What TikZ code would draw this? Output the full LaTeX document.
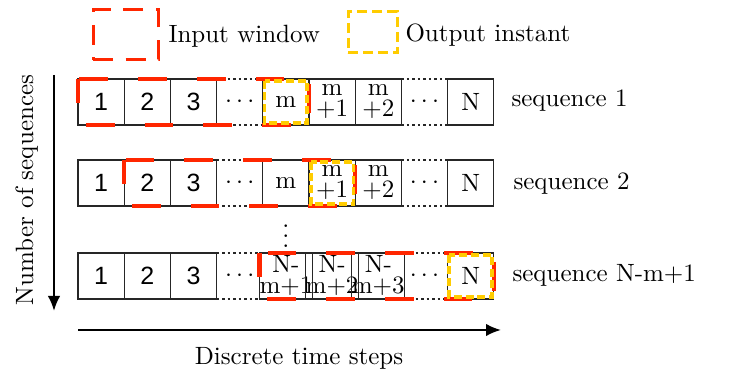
\documentclass[tikz,border=0pt]{standalone}
\usepackage{fontspec}
\newfontfamily\numfont{Liberation Sans}
\usetikzlibrary{arrows.meta}
\definecolor{winred}{RGB}{255,38,0}
\definecolor{outyel}{RGB}{255,204,0}
\begin{document}
\begin{tikzpicture}[x=0.4pt,y=-0.4pt,
 cell/.style={draw=black!85, line width=0.45pt, minimum width=18.48pt, minimum height=18.4pt, inner sep=0pt, outer sep=0pt, font=\fontsize{10}{8.4}\selectfont, align=center},
 gapcell/.style={minimum width=18.48pt, minimum height=18.4pt, inner sep=0pt, outer sep=0pt, font=\fontsize{10}{12}\selectfont},
 num/.style={cell, font=\numfont\fontsize{10}{12}\selectfont},
 dotline/.style={dash pattern=on 1pt off 1.2pt, line width=0.45pt, black!85},
 redwin/.style={draw=winred, line width=1.8pt, dash pattern=on 11.5pt off 12pt, dash phase=2pt},
 yelbox/.style={draw=outyel, line width=1.5pt, dash pattern=on 3.2pt off 1.5pt},
 lab/.style={font=\fontsize{10}{12}\selectfont, anchor=base west, inner sep=0pt},
 axis/.style={line width=0.8pt, -{Latex[length=6pt,width=5pt]}}
]
\useasboundingbox (0,0) rectangle (734,370);

% legend
\node[draw=winred, line width=1.2pt, dash pattern=on 8pt off 5pt, minimum width=26pt, minimum height=20pt, inner sep=0pt] (legin) at (125.5,35) {};
\node[lab] (legintext) at (168,43) {Input window};
\node[draw=outyel, line width=1.2pt, dash pattern=on 4pt off 2pt, minimum width=19.6pt, minimum height=16.4pt, inner sep=0pt] (legout) at (372.5,32.5) {};
\node[lab] (legouttext) at (405,42) {Output instant};

% row 1
\node[num] (a1) at (101.1,102) {1};
\node[num] (a2) at (147.3,102) {2};
\node[num] (a3) at (193.5,102) {3};
\node[gapcell] (a4) at (239.7,102) {$\cdots$};
\node[cell] (a5) at (285.9,102) {m};
\node[cell] (a6) at (332.1,102) {m\\+1};
\node[cell] (a7) at (378.3,102) {m\\+2};
\node[gapcell] (a8) at (424.5,102) {$\cdots$};
\node[cell] (a9) at (470.7,102) {N};
\draw[dotline] (a3.north east) -- (a5.north west) (a3.south east) -- (a5.south west);
\draw[dotline] (a7.north east) -- (a9.north west) (a7.south east) -- (a9.south west);
\node[lab] (s1) at (511,107) {sequence 1};

% row 2
\node[num] (b1) at (101.1,183) {1};
\node[num] (b2) at (147.3,183) {2};
\node[num] (b3) at (193.5,183) {3};
\node[gapcell] (b4) at (239.7,183) {$\cdots$};
\node[cell] (b5) at (285.9,183) {m};
\node[cell] (b6) at (332.1,183) {m\\+1};
\node[cell] (b7) at (378.3,183) {m\\+2};
\node[gapcell] (b8) at (424.5,183) {$\cdots$};
\node[cell] (b9) at (470.7,183) {N};
\draw[dotline] (b3.north east) -- (b5.north west) (b3.south east) -- (b5.south west);
\draw[dotline] (b7.north east) -- (b9.north west) (b7.south east) -- (b9.south west);
\node[lab] (s2) at (513,190) {sequence 2};

\node[gapcell] (vd) at (285.9,229) {$\vdots$};

% row 3
\node[num] (c1) at (101.1,276) {1};
\node[num] (c2) at (147.3,276) {2};
\node[num] (c3) at (193.5,276) {3};
\node[gapcell] (c4) at (239.7,276) {$\cdots$};
\node[cell] (c5) at (285.9,276) {N-\\m+1};
\node[cell] (c6) at (332.1,276) {N-\\m+2};
\node[cell] (c7) at (378.3,276) {N-\\m+3};
\node[gapcell] (c8) at (424.5,276) {$\cdots$};
\node[cell] (c9) at (470.7,276) {N};
\draw[dotline] (c3.north east) -- (c5.north west) (c3.south east) -- (c5.south west);
\draw[dotline] (c7.north east) -- (c9.north west) (c7.south east) -- (c9.south west);
\node[lab] (s3) at (512,282) {sequence N-m+1};

% windows
\draw[redwin] (a1.north west) rectangle (a5.south east);
\draw[redwin] (b2.north west) rectangle (b6.south east);
\draw[redwin] (c5.north west) rectangle (c9.south east);
\draw[yelbox] ([xshift=0.7pt,yshift=-0.7pt]a5.north west) rectangle ([xshift=-0.7pt,yshift=0.7pt]a5.south east);
\draw[yelbox] ([xshift=0.7pt,yshift=-0.7pt]b6.north west) rectangle ([xshift=-0.7pt,yshift=0.7pt]b6.south east);
\draw[yelbox] ([xshift=0.7pt,yshift=-0.7pt]c9.north west) rectangle ([xshift=-0.7pt,yshift=0.7pt]c9.south east);

% axes
\coordinate (vtop) at (54,75);
\coordinate (vbot) at (54,311);
\coordinate (hl) at (78,330);
\coordinate (hr) at (501,330);
\draw[axis] (vtop) -- (vbot);
\draw[axis] (hl) -- (hr);
\node[font=\fontsize{10}{12}\selectfont, rotate=90, anchor=base, inner sep=0pt] (ylab) at (33,190) {Number of sequences};
\node[font=\fontsize{10}{12}\selectfont, anchor=base, inner sep=0pt] (xlab) at (299,365) {Discrete time steps};
\end{tikzpicture}
\end{document}
